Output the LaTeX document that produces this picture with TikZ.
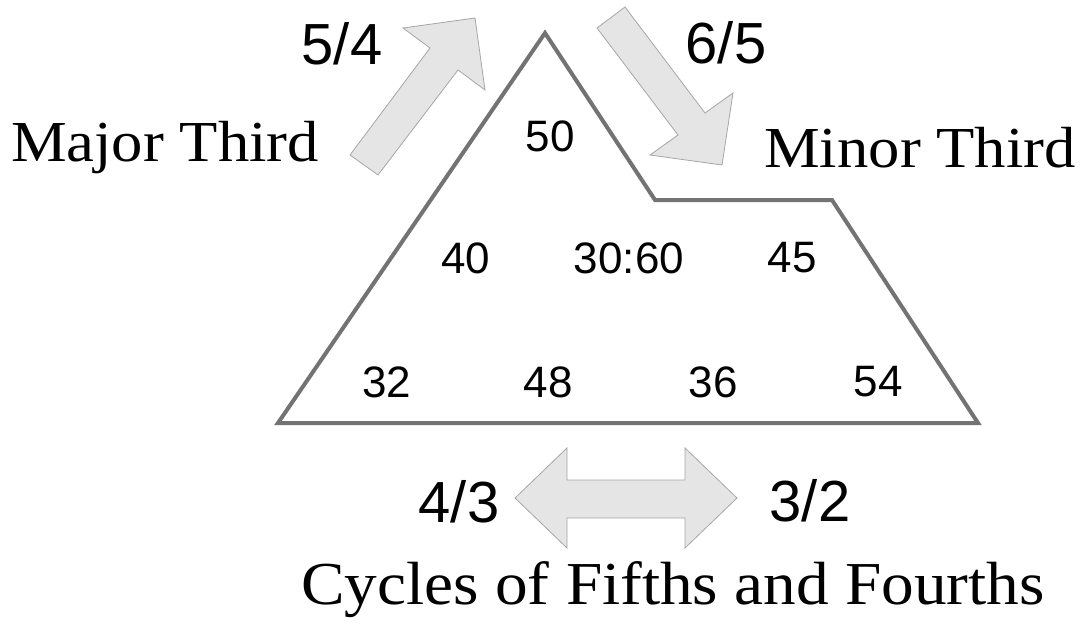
\documentclass[tikz,border=0pt]{standalone}
\usepackage{fontspec}
\setmainfont{Liberation Serif}
\newfontfamily\numfont{Liberation Sans}
\begin{document}
\begin{tikzpicture}[x=1pt,y=-1pt,
  outline/.style={draw=black!55,line width=4pt,line join=miter},
  fatarrow/.style={draw=black!35,fill=black!10,line width=0.8pt,line join=miter},
  label/.style={inner sep=0pt,font=\fontsize{58}{60}\selectfont,xscale=1.08},
  biglabel/.style={inner sep=0pt,font=\fontsize{61}{63}\selectfont,xscale=1.07},
  ratio/.style={inner sep=0pt,font=\numfont\fontsize{58}{60}\selectfont},
  num/.style={inner sep=0pt,font=\numfont\fontsize{44}{46}\selectfont}]
\useasboundingbox (0,0) rectangle (1081,625);
% outline shape
\draw[outline] (278,423) -- (545,33) -- (655,200) -- (832,200) -- (978,423) -- cycle;
% arrows
\draw[fatarrow] (350,155) -- (430,48) -- (403,28) -- (475,18) -- (485,90) -- (458,70) -- (378,175) -- cycle;
\draw[fatarrow] (597,28) -- (678,135) -- (650,155) -- (722,165) -- (733,93) -- (705,113) -- (625,7) -- cycle;
\draw[fatarrow] (515,498) -- (567,448) -- (567,480) -- (685,480) -- (685,448) -- (737,498) -- (685,548) -- (685,518) -- (567,518) -- (567,548) -- cycle;
% labels
\node[label] (maj) at (165,148) {Major Third};
\node[label] (min) at (920,148) {Minor Third};
\node[biglabel] (cyc) at (673,590) {Cycles of Fifths and Fourths};
\node[ratio] (r54) at (342,44) {5/4};
\node[ratio] (r65) at (726,43) {6/5};
\node[ratio] (r43) at (459,502) {4/3};
\node[ratio] (r32) at (810,501) {3/2};
% numbers
\node[num] (n50) at (550,136) {50};
\node[num] (n40) at (466,258) {40};
\node[num] (n3060) at (629,258) {30:60};
\node[num] (n45) at (792,258) {45};
\node[num] (n32) at (387,382) {32};
\node[num] (n48) at (548,382) {48};
\node[num] (n36) at (713,382) {36};
\node[num] (n54) at (878,382) {54};
\end{tikzpicture}
\end{document}
